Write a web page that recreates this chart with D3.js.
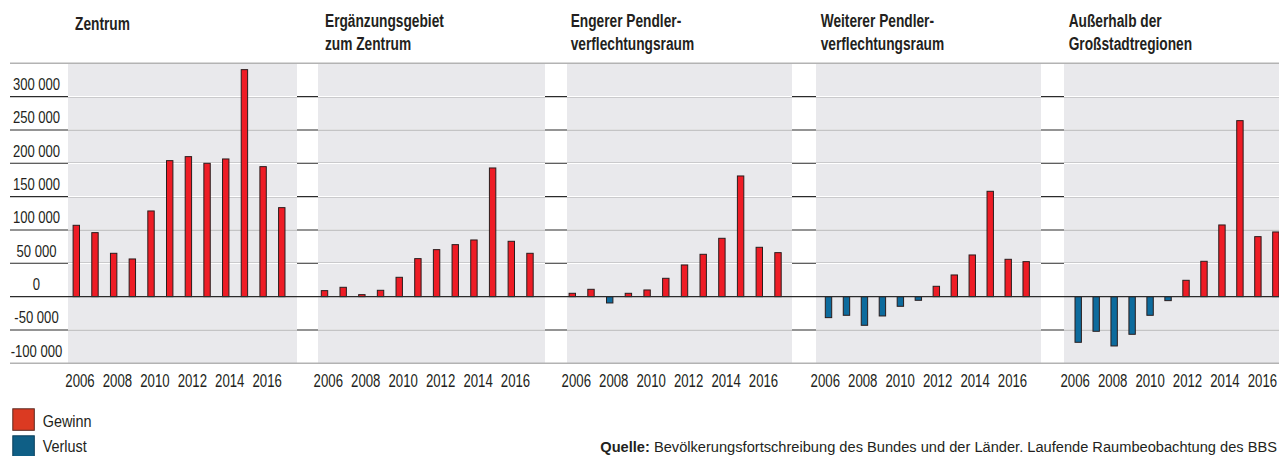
<!DOCTYPE html>
<html>
<head>
<meta charset="utf-8">
<script src="https://cdn.jsdelivr.net/npm/d3@7"></script>
<style>
  html, body { margin: 0; padding: 0; background: #ffffff; }
  svg { display: block; }
  text { font-family: "Liberation Sans", Arial, sans-serif; fill: #231f20; }
</style>
</head>
<body>
<svg id="chart" width="1279" height="456"></svg>
<script>
// ---------- data ----------
const years = [2006, 2007, 2008, 2009, 2010, 2011, 2012, 2013, 2014, 2015, 2016, 2017];
const panelTitles = [
  ["Zentrum"],
  ["Ergänzungsgebiet", "zum Zentrum"],
  ["Engerer Pendler-", "verflechtungsraum"],
  ["Weiterer Pendler-", "verflechtungsraum"],
  ["Außerhalb der", "Großstadtregionen"]
];
const zentrum     = [107000, 96000, 65000, 56500, 128500, 204000, 210000, 200000, 206500, 340500, 195000, 133500];
const ergaenzung  = [9000, 14000, 3000, 9500, 29000, 57000, 70500, 78000, 85000, 193000, 83000, 65000];
const engerer     = [5000, 11000, -9500, 5000, 10000, 27500, 47500, 63500, 87500, 181000, 74000, 66000];
const weiterer    = [-31500, -28000, -43000, -29000, -14500, -5500, 15500, 32500, 62500, 158000, 56000, 52500];
const ausserhalb  = [-68500, -52000, -74000, -56500, -28000, -6000, 24500, 53000, 107500, 264000, 90000, 97000];
const yTicks = [-100000, -50000, 0, 50000, 100000, 150000, 200000, 250000, 300000];
const xTickYears = [2006, 2008, 2010, 2012, 2014, 2016];
const legendLabels = ["Gewinn", "Verlust"];
const sourceLabel = "Quelle:";
const sourceText = " Bevölkerungsfortschreibung des Bundes und der Länder. Laufende Raumbeobachtung des BBS";

// ---------- layout ----------
const series = [zentrum, ergaenzung, engerer, weiterer, ausserhalb];
const W = 1279, H = 456;
const panelX = [68, 318, 567, 816, 1064];
const panelW = [229, 227, 225, 225, 240];
const barStart = [76.3, 324.5, 572.3, 828.5, 1078.2];
const barPitch = [18.68, 18.68, 18.7, 17.97, 17.97];
const labStart = [79.5, 327.8, 575.8, 824.8, 1074.7];
const labPitch = 18.72;
const titleX = [75, 325, 570.7, 820.7, 1068.7];

const C = {
  panel: "#e9e9ec", grid: "#ffffff", border: "#b3b3b3", tick: "#2b2b2b",
  zero: "#2b2b2b", gain: "#ee1c25", loss: "#0d6b9d", barStroke: "#2a1d1d",
  legGain: "#db3a22", legLoss: "#0f5f86", legStroke: "#5a2a20"
};

const locale = d3.formatLocale({decimal: ",", thousands: " ", grouping: [3], currency: ["", ""], minus: "-"});
const fmt = locale.format(",d");

const svg = d3.select("#chart");
const y = d3.scaleLinear().domain([-100000, 350000]).range([363.3, 63.3]);

// text helper: condensed look via horizontal scaling
function ctext(parent, x, yy, sx) {
  return parent.append("g").attr("transform", `translate(${x},${yy}) scale(${sx},1)`).append("text");
}

// panels background
series.forEach((s, i) => {
  svg.append("rect")
    .attr("x", panelX[i]).attr("y", y(350000))
    .attr("width", panelW[i]).attr("height", y(-100000) - y(350000))
    .attr("fill", C.panel);
});

// gridlines: black ticks across whole width, white inside panels
const gridVals = yTicks.filter(v => v !== 0 && v !== -100000);
svg.append("g").selectAll("line").data(gridVals).join("line")
  .attr("x1", 10).attr("x2", W)
  .attr("y1", d => y(d)).attr("y2", d => y(d))
  .attr("stroke", C.tick).attr("stroke-width", 1.1);
series.forEach((s, i) => {
  svg.append("g").selectAll("line").data(gridVals).join("line")
    .attr("x1", panelX[i]).attr("x2", panelX[i] + panelW[i])
    .attr("y1", d => y(d)).attr("y2", d => y(d))
    .attr("stroke", C.grid).attr("stroke-width", 1.3);
});

// top/bottom borders
[350000, -100000].forEach(v => {
  svg.append("line").attr("x1", 10).attr("x2", W)
    .attr("y1", y(v)).attr("y2", y(v))
    .attr("stroke", C.border).attr("stroke-width", 1.4);
});

// y labels
yTicks.forEach(v => {
  ctext(svg, 36.5, y(v) - 6.5, 0.76)
    .attr("text-anchor", "middle")
    .style("font-size", "17.2px")
    .text(fmt(v));
});

// bars
series.forEach((s, i) => {
  const xb = d3.scaleLinear().domain([years[0], years[years.length - 1]])
    .range([barStart[i], barStart[i] + (years.length - 1) * barPitch[i]]);
  const bw = 6.4;
  svg.append("g").selectAll("rect").data(s.map((v, j) => ({year: years[j], v}))).join("rect")
    .attr("x", d => xb(d.year) - bw / 2)
    .attr("y", d => y(Math.max(0, d.v)))
    .attr("width", bw)
    .attr("height", d => Math.abs(y(d.v) - y(0)))
    .attr("fill", d => d.v >= 0 ? C.gain : C.loss)
    .attr("stroke", C.barStroke).attr("stroke-width", 1);

  // x axis labels
  const xl = d3.scaleLinear().domain([2006, 2016])
    .range([labStart[i], labStart[i] + 10 * labPitch]);
  const ax = svg.append("g").attr("transform", `translate(0,${y(-100000)})`)
    .call(d3.axisBottom(xl).tickValues(xTickYears).tickFormat(d3.format("d")).tickSize(0).tickPadding(0));
  ax.select(".domain").remove();
  ax.selectAll("text").attr("y", 23.4).attr("dy", null)
    .attr("transform", "scale(0.75,1)")
    .style("font-size", "17.6px").style("font-family", null).attr("fill", "#231f20");

  // titles
  const t = ctext(svg, titleX[i], panelTitles[i].length === 1 ? 29.5 : 26.7, 0.78)
    .style("font-size", "17.6px").style("font-weight", "bold");
  panelTitles[i].forEach((line, k) => {
    t.append("tspan").attr("x", 0).attr("dy", k === 0 ? 0 : 23.3).text(line);
  });
});

// zero line
svg.append("line").attr("x1", 10).attr("x2", W)
  .attr("y1", y(0)).attr("y2", y(0))
  .attr("stroke", C.zero).attr("stroke-width", 1.4);

// legend
const leg = svg.append("g");
legendLabels.forEach((lab, k) => {
  leg.append("rect").attr("x", 12.8).attr("y", 408.8 + k * 27)
    .attr("width", 21.5).attr("height", 21.5)
    .attr("fill", k === 0 ? C.legGain : C.legLoss)
    .attr("stroke", k === 0 ? C.legStroke : "#0b3f5a").attr("stroke-width", 1);
  ctext(leg, 42.7, 426.7 + k * 25, 0.83)
    .style("font-size", "17.4px").text(lab);
});

// source
const src = ctext(svg, 1277, 452, 0.97).attr("text-anchor", "end")
  .style("font-size", "15.1px");
src.append("tspan").style("font-weight", "bold").text(sourceLabel);
src.append("tspan").text(sourceText);
</script>
</body>
</html>
